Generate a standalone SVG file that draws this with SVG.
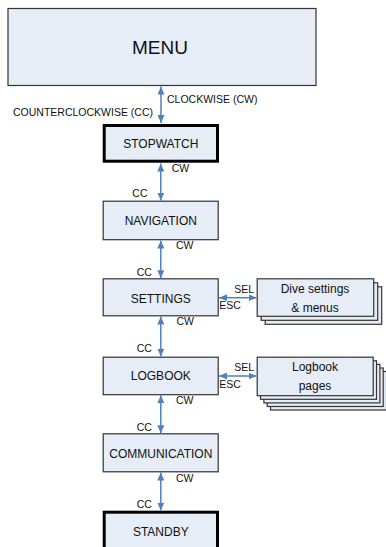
<svg xmlns="http://www.w3.org/2000/svg" width="386" height="547" viewBox="0 0 386 547">
<style>
.box{fill:#E7EDF7;stroke:#333;stroke-width:1.2}
.thick{fill:#E7EDF7;stroke:#000;stroke-width:3}
.lbl{font-family:"Liberation Sans",Arial,sans-serif;font-size:12px;fill:#111;text-anchor:middle}
.big{font-family:"Liberation Sans",Arial,sans-serif;font-size:19px;fill:#111;text-anchor:middle}
.sm{font-family:"Liberation Sans",Arial,sans-serif;font-size:10.5px;fill:#111}
.con{stroke:#4F81BD;stroke-width:1.5;fill:none;marker-start:url(#ah);marker-end:url(#ah)}
</style>
<defs>
<marker id="ah" viewBox="0 0 8 7" refX="8" refY="3.5" markerWidth="8" markerHeight="7" markerUnits="userSpaceOnUse" orient="auto-start-reverse">
<path d="M0,0 L8,3.5 L0,7 Z" fill="#4F81BD"/>
</marker>
</defs>
<g id="menu">
<rect class="box" x="8" y="8.5" width="308" height="77"/>
<text class="big" x="160" y="54">MENU</text>
</g>
<g id="stopwatch">
<rect class="thick" x="104.2" y="125.5" width="113.3" height="35.7"/>
<text class="lbl" x="160.8" y="148">STOPWATCH</text>
</g>
<g id="navigation">
<rect class="box" x="103.2" y="201.2" width="115" height="38.5"/>
<text class="lbl" x="160.8" y="225">NAVIGATION</text>
</g>
<g id="settings">
<rect class="box" x="103.2" y="278.8" width="115" height="37"/>
<text class="lbl" x="160.8" y="303">SETTINGS</text>
</g>
<g id="logbook">
<rect class="box" x="103.2" y="357.2" width="115" height="37.5"/>
<text class="lbl" x="160.8" y="380">LOGBOOK</text>
</g>
<g id="communication">
<rect class="box" x="103.2" y="433.8" width="115" height="38"/>
<text class="lbl" x="160.8" y="457.5">COMMUNICATION</text>
</g>
<g id="standby">
<rect class="thick" x="104.2" y="512.2" width="113.3" height="50"/>
<text class="lbl" x="160.8" y="536">STANDBY</text>
</g>
<g id="dive-settings">
<rect class="box" x="265.2" y="286.8" width="116.5" height="37.5"/>
<rect class="box" x="261.2" y="282.8" width="116.5" height="37.5"/>
<rect class="box" x="257.2" y="278.8" width="116.5" height="37.5"/>
<text class="lbl" x="315" y="292.7">Dive settings</text>
<text class="lbl" x="315" y="312.3">&amp; menus</text>
</g>
<g id="logbook-pages">
<rect class="box" x="270.5" y="371.5" width="116" height="38.5"/>
<rect class="box" x="267.2" y="368" width="116" height="38.5"/>
<rect class="box" x="263.9" y="364.4" width="116" height="38.5"/>
<rect class="box" x="260.5" y="360.8" width="116" height="38.5"/>
<rect class="box" x="257.2" y="357.2" width="116" height="38.5"/>
<text class="lbl" x="315" y="370.5">Logbook</text>
<text class="lbl" x="315" y="390">pages</text>
</g>
<g id="connectors">
<line class="con" x1="161" y1="86.5" x2="161" y2="123"/>
<line class="con" x1="160.8" y1="163.5" x2="160.8" y2="200.5"/>
<line class="con" x1="160.8" y1="240.5" x2="160.8" y2="278.2"/>
<line class="con" x1="160.8" y1="316.5" x2="160.8" y2="356.6"/>
<line class="con" x1="160.8" y1="395.3" x2="160.8" y2="433.2"/>
<line class="con" x1="160.8" y1="472.5" x2="160.8" y2="510.5"/>
<line class="con" x1="219" y1="297.7" x2="256.5" y2="297.7"/>
<line class="con" x1="219" y1="376" x2="256.5" y2="376"/>
<text class="sm" x="167" y="103">CLOCKWISE (CW)</text>
<text class="sm" x="13" y="116">COUNTERCLOCKWISE (CC)</text>
<text class="sm" x="171.7" y="171.6">CW</text>
<text class="sm" x="132.3" y="197">CC</text>
<text class="sm" x="176" y="249">CW</text>
<text class="sm" x="136.7" y="275.7">CC</text>
<text class="sm" x="176.5" y="325">CW</text>
<text class="sm" x="136.7" y="351.7">CC</text>
<text class="sm" x="176" y="404">CW</text>
<text class="sm" x="136.7" y="430.7">CC</text>
<text class="sm" x="176" y="481.7">CW</text>
<text class="sm" x="136.7" y="507.7">CC</text>
<text class="sm" x="234.3" y="293">SEL</text>
<text class="sm" x="219.3" y="309">ESC</text>
<text class="sm" x="234.3" y="371">SEL</text>
<text class="sm" x="219.3" y="387.5">ESC</text>
</g>
</svg>
